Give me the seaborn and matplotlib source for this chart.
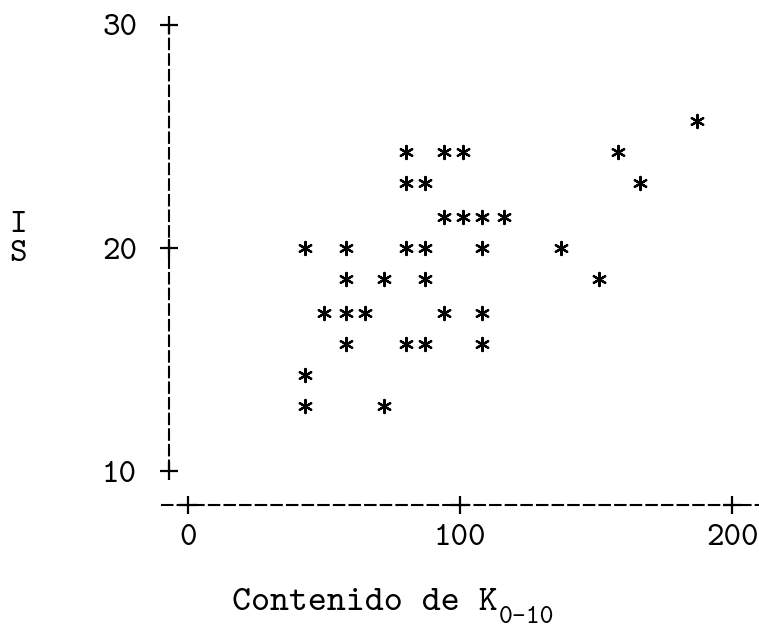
import matplotlib
matplotlib.use("Agg")
import matplotlib.pyplot as plt
import seaborn as sns
import pandas as pd

# Potassium content (0-10 cm) and the index plotted on the vertical axis
k_content = [187,
             80, 94, 101, 158,
             80, 87, 166,
             94, 101, 108, 116,
             43, 58, 80, 87, 108, 137,
             58, 72, 87, 151,
             50, 58, 65, 94, 108,
             58, 80, 87, 108,
             43,
             43, 72]
is_value = [25.7,
            24.3, 24.3, 24.3, 24.3,
            22.9, 22.9, 22.9,
            21.4, 21.4, 21.4, 21.4,
            20.0, 20.0, 20.0, 20.0, 20.0, 20.0,
            18.6, 18.6, 18.6, 18.6,
            17.1, 17.1, 17.1, 17.1, 17.1,
            15.7, 15.7, 15.7, 15.7,
            14.3,
            12.9, 12.9]

x_ticks = [0, 100, 200]
y_ticks = [10, 20, 30]
x_label = "Contenido de K"
x_label_sub = "0-10"
y_label = "I\nS"

sns.set_theme(style="white")
plt.rcParams["font.family"] = ["cmtt10", "DejaVu Sans Mono"]
plt.rcParams["axes.unicode_minus"] = False

df = pd.DataFrame({"K": k_content, "IS": is_value})

fig = plt.figure(figsize=(7.59, 6.28), dpi=100)
ax = fig.add_axes([162 / 759, 123 / 628, 597 / 759, 505 / 628])

sns.scatterplot(data=df, x="K", y="IS", marker=(6, 2, 0), s=90,
                color="black", linewidth=1.6, ax=ax, clip_on=False)

x_lo, x_hi = -9.56, 209.9
y_lo, y_hi = 8.48, 31.12
y_axis_x = -7
ax.set_xlim(x_lo, x_hi)
ax.set_ylim(y_lo, y_hi)
ax.grid(False)

# typewriter-style dashed axes
for side in ("top", "right"):
    ax.spines[side].set_visible(False)
dash = (0, (5, 2.5))
ax.spines["left"].set_position(("data", y_axis_x))
ax.spines["left"].set_bounds(y_ticks[0], y_ticks[-1])
ax.spines["bottom"].set_bounds(x_lo, x_hi)
for side in ("left", "bottom"):
    ax.spines[side].set_linestyle(dash)
    ax.spines[side].set_linewidth(1.5)
    ax.spines[side].set_color("black")

# "+" marks at each tick
ax.plot([y_axis_x] * len(y_ticks), y_ticks, marker="+", ls="none", ms=13,
        mew=1.6, color="black", clip_on=False)
ax.plot(x_ticks, [y_lo] * len(x_ticks), marker="+", ls="none", ms=13,
        mew=1.6, color="black", clip_on=False)

ax.set_xticks(x_ticks)
ax.set_yticks(y_ticks)
ax.tick_params(axis="both", length=0, labelsize=24, colors="black")
ax.tick_params(axis="x", pad=14)
ax.tick_params(axis="y", pad=23)

label_y = -0.208
xl = ax.set_xlabel(x_label, fontsize=26, color="black", va="baseline")
ax.xaxis.set_label_coords(0.34, label_y)
ax.annotate(x_label_sub, xy=(1.0, label_y), xycoords=(xl, "axes fraction"),
            xytext=(1, -9), textcoords="offset points", va="baseline",
            ha="left", fontsize=19, color="black")
ax.set_ylabel(y_label, fontsize=24, color="black", rotation=0,
              ha="center", va="center", linespacing=1.0)
ax.yaxis.set_label_coords(-0.241, 0.525)

fig.savefig("out.png", dpi=100)
